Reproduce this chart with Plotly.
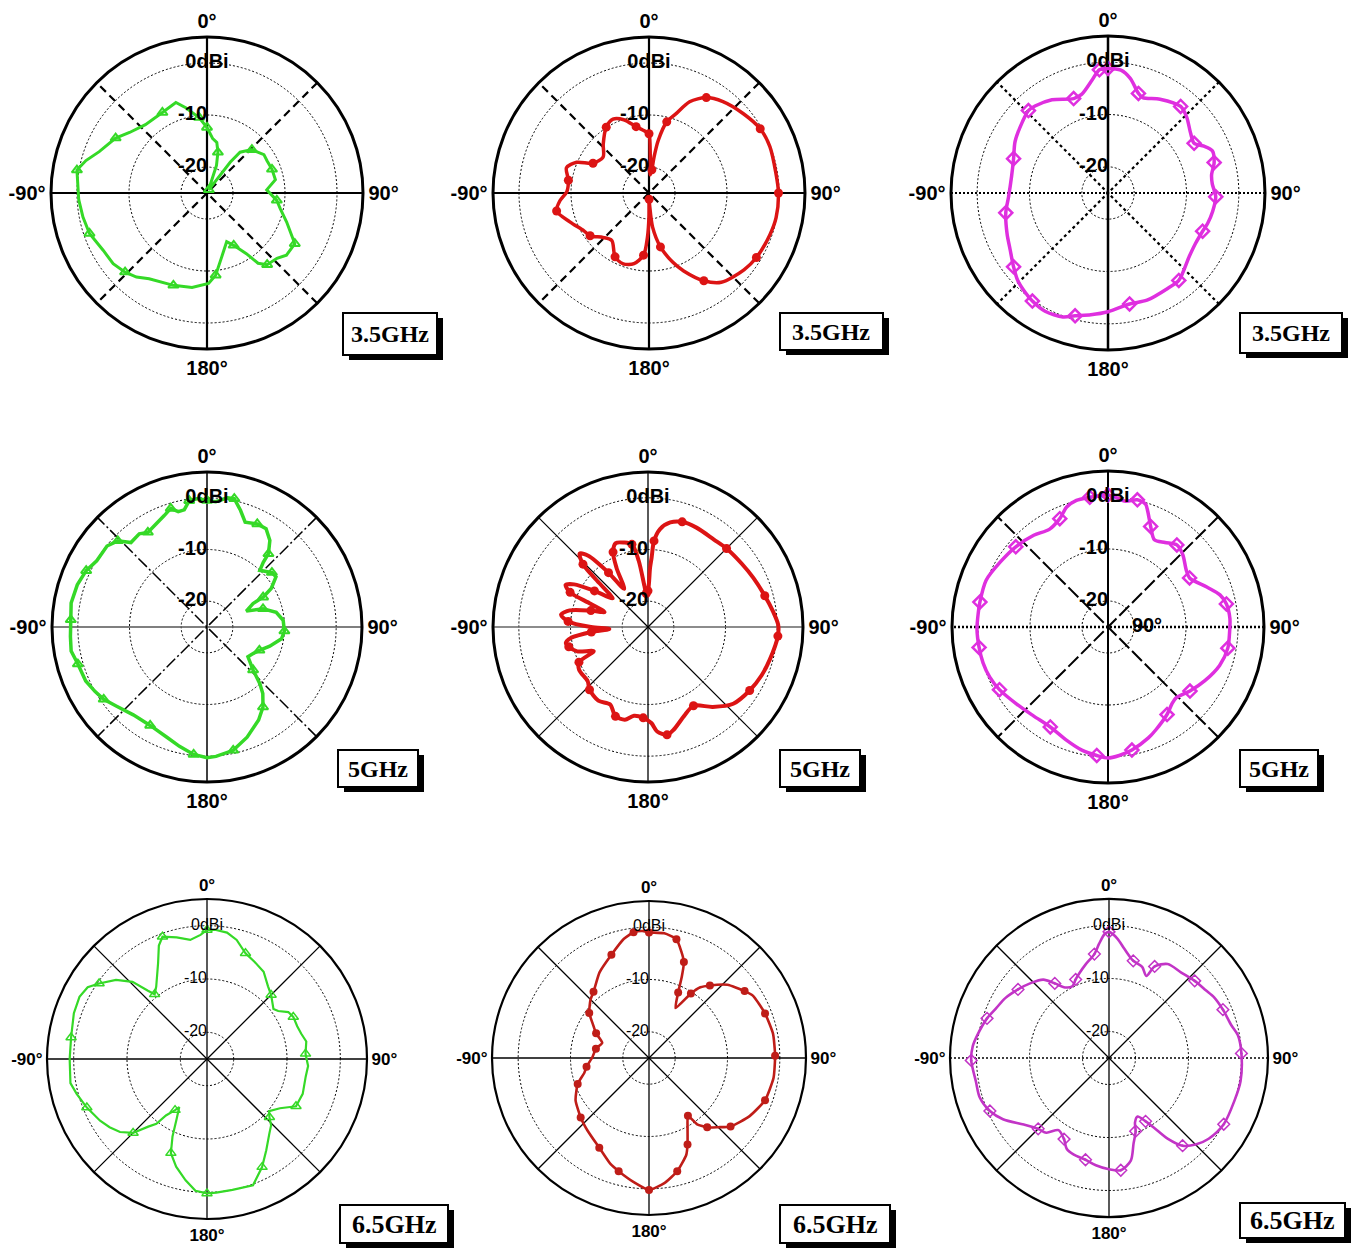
import plotly.graph_objects as go

W, H = 1353, 1250
R_MIN, R_MAX = -25, 5

# ---------------- measured radiation patterns (angle in deg, gain in dBi) ----------------
# column 1: green / triangles
g35_theta = [0, 6, 11, 15, 19, 22, 30, 37, 39, 46, 56, 62, 70, 79, 87, 96, 102, 110, 120, 128,
             133, 140, 144, 147, 153, 158, 167, 174, 179, 189, 200, 214, 220, 226, 233, 241, 251, 259, 267, 280,
             285, 291, 301, 308, 318, 331, 341, 346, 354]
g35_gain = [-12.4, -14.5, -15.1, -16.9, -19.4, -23.5, -24.3, -17.6, -14.9, -13.0, -11.8, -11.9, -11.7, -11.6, -13.5, -11.5, -10.6, -8.7, -5.5, -5.6,
            -6.6, -7.0, -8.3, -11.1, -13.7, -14.9, -12.4, -9.1, -7.6, -6.6, -6.1, -5.1, -3.9, -3.1, -2.4, -2.2, -1.1, -0.7, -0.3, 0.4,
            -0.9, -2.8, -4.5, -6.1, -7.3, -7.3, -6.6, -8.1, -10.4]

g5_theta = [0, 4, 9, 12, 16, 20, 26, 31, 36, 40, 41, 43, 50, 54, 59, 62, 63, 68, 72, 78,
            85, 93, 99, 107, 114, 120, 126, 133, 137, 140, 145, 151, 160, 168, 176, 180, 186, 193, 200, 210,
            220, 229, 235, 240, 246, 254, 260, 266, 273, 280, 288, 295, 301, 309, 314, 318, 324, 328, 334, 339,
            343, 346, 349, 352, 356]
g5_gain = [-0.5, -0.7, 0.3, 0.4, -1.5, -3.4, -2.8, -2.8, -4.3, -6.5, -8.4, -10.0, -8.6, -8.5, -10.5, -12.7, -15.0, -16.8, -13.6, -11.3,
           -10.2, -10.0, -10.4, -12.3, -13.9, -14.7, -15.2, -12.8, -10.0, -8.2, -6.1, -4.4, -2.3, -0.6, 0.1, 0.3, -0.2, -1.3, -2.3, -3.0,
           -2.8, -1.7, -0.6, 0.0, 0.7, 1.0, 1.7, 1.5, 1.4, 1.7, 1.4, 0.8, -0.1, -0.1, -1.0, -3.0, -2.7, -3.4, -2.7, -1.9,
           -1.0, -2.0, -1.9, -0.3, -0.1]

g65_theta = [0, 4, 9, 14, 20, 26, 33, 40, 45, 53, 56, 60, 64, 70, 75, 80, 87, 94, 100, 110,
             118, 120, 124, 130, 133, 136, 140, 147, 153, 160, 169, 176, 180, 185, 190, 196, 201, 204, 207, 210,
             212, 216, 218, 221, 225, 230, 235, 240, 248, 255, 260, 270, 279, 289, 296, 301, 305, 311, 316, 319,
             321, 325, 333, 337, 340, 346, 352, 357]
g65_gain = [-0.8, -0.75, -1.0, -2.0, -3.9, -4.7, -5.5, -7.2, -8.0, -9.4, -8.9, -7.4, -7.0, -7.0, -6.7, -6.1, -6.5, -6.0, -6.2, -5.9,
            -6.1, -7.0, -8.5, -9.8, -9.0, -7.7, -6.8, -4.6, -2.25, 0.2, 0.0, 0.1, 0.2, -0.2, -1.9, -4.0, -6.1, -9.1, -12.5, -14.6,
            -13.7, -11.9, -9.6, -8.2, -5.4, -3.7, -2.7, -1.85, -0.7, 0.3, 1.0, 0.75, 0.8, 1.4, 1.6, 1.1, -0.3, -2.4, -4.9, -8.0,
            -9.4, -8.4, -4.8, -1.9, -0.6, -1.5, -2.45, -1.7]

# column 2: red / circles
r35_theta = [0, 2, 4, 7, 8, 10, 14, 19, 24, 31, 39, 50, 60, 69, 81, 90, 101, 109, 121, 129,
             141, 148, 156, 161, 168, 174, 177, 179, 180, 182, 185, 192, 200, 208, 218, 226, 234, 240, 250, 259,
             265, 271, 279, 287, 293, 298, 308, 317, 327, 334, 341, 349, 358]
r35_gain = [-13.6, -18.0, -21.5, -20.5, -18.0, -14.7, -10.9, -8.8, -5.8, -3.6, -2.4, -1.3, -0.3, -0.1, -0.3, -0.1, -0.1, -0.4, -0.9, -1.5,
            -2.9, -5.1, -8.6, -10.9, -14.4, -18.4, -22.5, -23.8, -20.5, -16.5, -13.0, -11.1, -10.5, -11.1, -13.4, -12.7, -11.0, -10.5, -8.8, -6.9,
            -7.8, -9.2, -9.3, -8.4, -9.9, -12.8, -13.8, -12.1, -9.9, -9.2, -10.1, -12.0, -13.3]

r5_theta = [0, 2, 3, 4, 7, 12, 18, 26, 37, 45, 56, 65, 75, 83, 89, 94, 105, 113, 122, 132,
            141, 150, 158, 166, 170, 175, 178, 183, 189, 194, 200, 206, 214, 223, 228, 238, 243, 246, 251, 256,
            259, 262, 265, 267, 270, 274, 278, 282, 286, 289, 292, 294, 297, 300, 304, 309, 312, 314, 317, 320,
            324, 328, 332, 335, 339, 344, 349, 352, 355, 357]
r5_gain = [-18.0, -13.5, -11.5, -8.3, -5.9, -4.3, -3.6, -3.6, -3.8, -3.5, -3.1, -2.5, -1.6, -0.6, 0.2, 0.2, -0.6, -1.1, -1.8, -2.8,
           -5.1, -7.4, -6.4, -4.5, -3.8, -4.7, -6.4, -7.4, -7.6, -6.5, -6.6, -8.3, -7.8, -8.4, -9.3, -9.3, -10.0, -13.5, -10.5, -9.2,
           -8.8, -10.0, -14.0, -17.5, -14.0, -9.5, -8.0, -9.5, -13.5, -16.1, -13.0, -8.5, -7.1, -8.5, -12.5, -16.2, -12.5, -7.5, -5.6, -7.0,
           -12.0, -16.3, -12.0, -9.0, -7.6, -8.0, -8.7, -12.0, -17.0, -18.5]

r65_theta = [0, 7, 13, 17, 20, 22, 24, 28, 33, 36, 40, 47, 55, 59, 69, 79, 89, 99, 110,
             120, 130, 135, 140, 144, 146, 151, 156, 159, 166, 173, 180, 187, 195, 200, 209, 220, 229, 240, 250,
             257, 262, 271, 280, 288, 295, 301, 307, 315, 320, 330, 340, 348, 353, 357]
r65_gain = [-1.0, -1.0, -1.7, -3.8, -5.5, -8.3, -11.3, -14.2, -10.3, -8.3, -6.9, -4.5, -2.7, -1.85, -1.25, -0.85, -0.9, -0.9, -1.4,
            -2.8, -4.65, -6.3, -7.7, -9.35, -11.7, -9.8, -6.9, -5.15, -2.7, -0.9, 0.2, -1.1, -2.6, -3.45, -5.4, -6.8, -7.7, -8.8, -10.5,
            -12.3, -12.95, -14.2, -14.7, -15.6, -13.85, -12.5, -10.7, -9.2, -8.5, -6.1, -4.0, -1.75, -0.8, -0.7]

# column 3: magenta / diamonds
m35_theta = [0, 6, 11, 17, 20, 29, 40, 46, 54, 60, 64, 68, 74, 80, 85, 92, 100, 107, 112, 120,
             128, 141, 148, 160, 169, 180, 188, 195, 200, 208, 215, 220, 226, 232, 240, 248, 259, 268, 280, 290,
             299, 310, 316, 320, 329, 340, 345, 352, 356]
m35_gain = [-1.2, -1.4, -2.7, -5.1, -5.6, -4.5, -3.4, -4.1, -5.5, -6.0, -4.6, -3.5, -3.9, -4.9, -5.0, -4.4, -4.7, -5.1, -5.5, -5.7,
            -5.3, -3.5, -3.5, -3.2, -3.4, -2.3, -1.5, -0.7, 0.2, 0.6, 0.2, -0.3, -1.0, -2.1, -3.4, -4.2, -5.1, -6.0, -6.3, -5.8,
            -4.7, -3.7, -3.1, -3.3, -4.2, -5.8, -5.5, -3.2, -1.4]

m5_theta = [0, 4, 8, 13, 17, 19, 23, 28, 34, 40, 46, 54, 59, 68, 74, 79, 86, 93, 100, 109,
            119, 128, 136, 140, 146, 155, 160, 169, 175, 180, 185, 192, 200, 210, 220, 230, 240, 247, 254, 261,
            269, 276, 281, 291, 301, 311, 321, 329, 336, 341, 346, 352, 356]
m5_gain = [0.4, -0.1, -0.6, 0.1, -0.3, -1.5, -4.0, -6.0, -5.4, -4.4, -5.0, -6.4, -6.7, -4.5, -2.6, -1.8, -1.5, -1.6, -1.6, -2.3,
           -3.7, -5.0, -6.1, -5.8, -4.7, -3.2, -2.3, -0.9, -0.2, 0.2, -0.2, -0.8, -1.8, -2.8, -2.7, -2.0, -0.9, -0.3, 0.0, 0.1,
           0.2, 0.1, 0.1, 0.1, -0.8, -1.5, -2.3, -3.1, -2.2, -0.6, 0.1, 0.2, 0.3]

m65_theta = [0, 4, 8, 14, 20, 24.5, 26.5, 32, 40, 48, 55, 60, 67, 75, 80, 88, 100, 109, 120, 129,
             135, 140, 144, 147, 150, 154, 158, 160, 164, 168, 174, 180, 187, 193, 200, 205, 209, 215, 220, 225,
             232, 240, 246, 253, 260, 269, 275, 280, 288, 294, 300, 307, 314, 320, 324, 328, 333, 337, 341, 346,
             352, 355, 358]
m65_gain = [-1.2, -2.4, -4.2, -6.1, -6.7, -8.0, -5.7, -4.1, -3.9, -3.25, -2.7, -2.1, -1.65, -1.1, -0.3, 0.0, 0.2, 0.0, 0.0, -0.8,
            -1.9, -3.4, -6.2, -9.2, -11.2, -12.7, -11.9, -10.3, -8.2, -5.2, -3.7, -4.0, -4.6, -5.3, -5.6, -6.1, -7.5, -8.4, -6.6, -6.1,
            -4.6, -1.9, -0.4, 0.5, 0.5, 1.0, 0.8, 0.2, -0.8, -1.75, -2.4, -3.5, -4.6, -5.7, -7.6, -9.3, -9.8, -8.9, -8.0, -6.8,
            -5.2, -3.4, -1.6]

freq_labels = ["3.5GHz", "5GHz", "6.5GHz"]
angle_tickvals = [0, 90, 180, 270]
angle_ticktext = ["0°", "90°", "180°", "-90°"]
ring_vals = [0, -10, -20]
ring_text = ["0dBi", "-10", "-20"]

SANS = "Liberation Sans, Arial, sans-serif"
SERIF = "Liberation Serif, Times New Roman, serif"
GREEN, RED, RED_DARK, MAGENTA, PURPLE = "#35d927", "#dc1414", "#bf1d18", "#df2fdf", "#c234c6"

solid_thick = ("black", 2.2, "solid")
dash_thick = ("black", 2.2, "8px,5px")
thin = ("black", 1.3, "solid")

panels = [
    dict(theta=g35_theta, gain=g35_gain, f=0, cx=207, cy=193, rad=156, color=GREEN, lw=3, shape="linear",
         sym="triangle-up-open", ms=9, mlw=2, step=3, v=solid_thick, h=solid_thick, d=dash_thick, rim=3,
         box=(343, 313, 437, 355), smooth=0.8),
    dict(theta=r35_theta, gain=r35_gain, f=0, cx=649, cy=193, rad=156, color=RED, lw=3.5, shape="spline",
         sym="circle", ms=9, mlw=0, step=3, v=solid_thick, h=solid_thick, d=dash_thick, rim=3,
         box=(780, 313, 883, 350), smooth=0.8),
    dict(theta=m35_theta, gain=m35_gain, f=0, cx=1108, cy=193, rad=157, color=MAGENTA, lw=3.5, shape="spline",
         sym="diamond-open", ms=10, mlw=2.5, step=3, v=("black", 2.5, "solid"), h=("black", 1.8, "2px,2px"),
         d=("black", 2.2, "3px,3px"), rim=3, box=(1240, 313, 1342, 353), smooth=0.8),
    dict(theta=g5_theta, gain=g5_gain, f=1, cx=207, cy=627, rad=155, color=GREEN, lw=3.5, shape="linear",
         sym="triangle-up-open", ms=9, mlw=2, step=3, v=("black", 1.5, "solid"), h=("#555555", 1.3, "solid"),
         d=("black", 1.5, "12px,3px,2px,3px"), rim=3, box=(338, 750, 418, 787), smooth=0.8),
    dict(theta=r5_theta, gain=r5_gain, f=1, cx=648, cy=627, rad=155, color=RED, lw=4, shape="spline",
         sym="circle", ms=9, mlw=0, step=3, v=("black", 1.3, "solid"), h=("#666666", 1.3, "solid"),
         d=("black", 1.2, "solid"), rim=3, box=(780, 750, 860, 787), smooth=0.8),
    dict(theta=m5_theta, gain=m5_gain, f=1, cx=1108, cy=627, rad=156, color=MAGENTA, lw=3.5, shape="spline",
         sym="diamond-open", ms=10, mlw=2.5, step=3, v=("black", 2, "solid"), h=("black", 2.5, "2px,2px"),
         d=("black", 2, "14px,4px"), rim=3, box=(1240, 750, 1318, 787), smooth=0.8),
    dict(theta=g65_theta, gain=g65_gain, f=2, cx=207, cy=1059, rad=160, color=GREEN, lw=2.2, shape="linear",
         sym="triangle-up-open", ms=9, mlw=1.5, step=4, v=thin, h=thin, d=thin, rim=2.2,
         box=(340, 1205, 448, 1243), smooth=0.8),
    dict(theta=r65_theta, gain=r65_gain, f=2, cx=649, cy=1058, rad=157, color=RED_DARK, lw=2.6, shape="spline",
         sym="circle", ms=8, mlw=0, step=2, v=thin, h=thin, d=thin, rim=2.2,
         box=(780, 1205, 890, 1243), smooth=0.5),
    dict(theta=m65_theta, gain=m65_gain, f=2, cx=1109, cy=1058, rad=159, color=PURPLE, lw=2.6, shape="spline",
         sym="diamond-open-dot", ms=9, mlw=1.5, step=3, v=thin, h=("black", 1.3, "2px,2px"), d=thin, rim=2.2,
         box=(1240, 1203, 1345, 1238), smooth=0.8),
]

fig = go.Figure()
shapes, annotations, polars = [], [], {}

for i, p in enumerate(panels):
    pid = "polar" if i == 0 else f"polar{i + 1}"
    small = p["f"] == 2

    # cardinal and diagonal guide lines through the centre
    for ang, (lc, lwid, ldash) in [(0, p["v"]), (90, p["h"]), (45, p["d"]), (135, p["d"])]:
        fig.add_trace(go.Scatterpolar(
            theta=[ang, ang, ang + 180], r=[R_MAX, R_MIN, R_MAX], mode="lines",
            line=dict(color=lc, width=lwid, dash=ldash), subplot=pid,
            hoverinfo="skip", showlegend=False))

    # pattern curve (closed loop)
    th = list(p["theta"]) + [p["theta"][0] + 360]
    gn = list(p["gain"]) + [p["gain"][0]]
    line = dict(color=p["color"], width=p["lw"], shape=p["shape"])
    if p["shape"] == "spline":
        line["smoothing"] = p["smooth"]
    fig.add_trace(go.Scatterpolar(theta=th, r=gn, mode="lines", line=line, subplot=pid,
                                  hoverinfo="skip", showlegend=False))
    # sample markers
    mk = dict(symbol=p["sym"], size=p["ms"], color=p["color"])
    if p["mlw"]:
        mk["line"] = dict(color=p["color"], width=p["mlw"])
    fig.add_trace(go.Scatterpolar(theta=p["theta"][::p["step"]], r=p["gain"][::p["step"]], mode="markers",
                                  marker=mk, subplot=pid, hoverinfo="skip", showlegend=False))

    # ring labels along the 0° spoke
    fig.add_trace(go.Scatterpolar(
        theta=[0, 0, 0], r=ring_vals, mode="text", text=ring_text,
        textposition=["middle center", "middle left", "middle left"],
        textfont=dict(family=SANS, size=16 if small else 20, color="black",
                      weight="normal" if small else "bold"),
        subplot=pid, hoverinfo="skip", showlegend=False, cliponaxis=False))

    if i == 5:
        fig.add_trace(go.Scatterpolar(
            theta=[90], r=[-17.5], mode="text", text=["90°"], textposition="middle center",
            textfont=dict(family=SANS, size=20, color="black", weight="bold"),
            subplot=pid, hoverinfo="skip", showlegend=False, cliponaxis=False))

    cx, cy, rad = p["cx"], p["cy"], p["rad"]
    polars[pid] = dict(
        domain=dict(x=[(cx - rad) / W, (cx + rad) / W], y=[1 - (cy + rad) / H, 1 - (cy - rad) / H]),
        bgcolor="white",
        angularaxis=dict(rotation=90, direction="clockwise", tickmode="array",
                         tickvals=angle_tickvals, ticktext=angle_ticktext, showgrid=False,
                         showline=True, linecolor="black", linewidth=p["rim"], ticks="",
                         tickfont=dict(family=SANS, size=17 if small else 20, color="black", weight="bold")),
        radialaxis=dict(range=[R_MIN, R_MAX], tickmode="array", tickvals=ring_vals, showticklabels=False,
                        ticks="", showline=False, showgrid=True, gridcolor="black", gridwidth=1.4,
                        griddash="2px,2px"),
    )

    # frequency tag with drop shadow
    bx0, by0, bx1, by1 = p["box"]
    shapes.append(dict(type="rect", xref="paper", yref="paper",
                       x0=(bx0 + 6) / W, x1=(bx1 + 6) / W, y0=1 - (by1 + 5) / H, y1=1 - (by0 + 5) / H,
                       fillcolor="black", line=dict(width=0)))
    shapes.append(dict(type="rect", xref="paper", yref="paper",
                       x0=bx0 / W, x1=bx1 / W, y0=1 - by1 / H, y1=1 - by0 / H,
                       fillcolor="white", line=dict(color="black", width=2)))
    annotations.append(dict(text=freq_labels[p["f"]], xref="paper", yref="paper",
                            x=(bx0 + bx1) / 2 / W, y=1 - (by0 + by1) / 2 / H, showarrow=False,
                            xanchor="center", yanchor="middle",
                            font=dict(family=SERIF, size=26 if small else 24, color="black", weight="bold")))

fig.update_layout(width=W, height=H, margin=dict(l=0, r=0, t=0, b=0), paper_bgcolor="white",
                  showlegend=False, shapes=shapes, annotations=annotations, **polars)

fig.write_html("out.html")
